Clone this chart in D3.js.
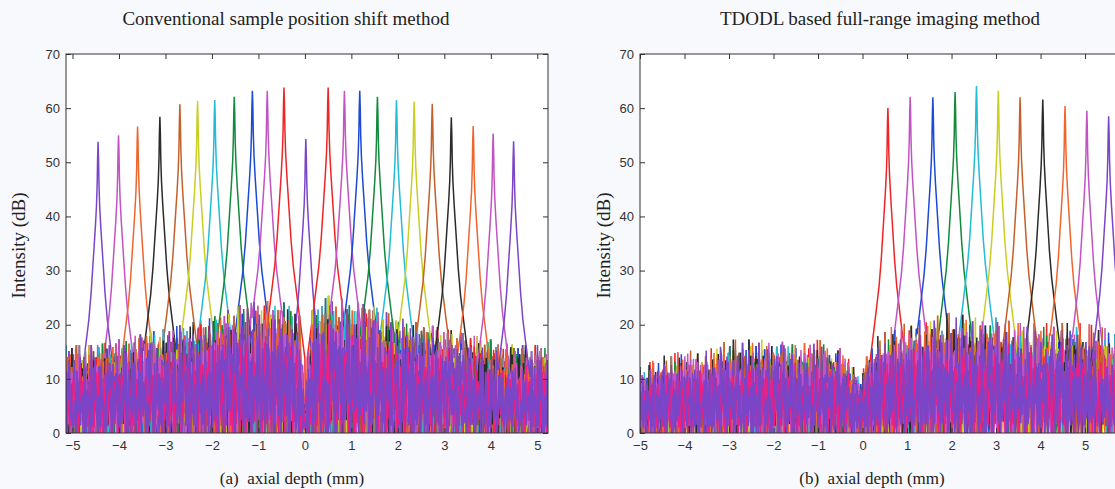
<!doctype html>
<html lang="en">
<head>
<meta charset="UTF-8">
<title>Axial depth intensity profiles</title>
<style>
  body { margin: 0; background: #f8f9fc; }
  svg { display: block; }
  .tick text { font-family: "Liberation Sans", Arial, sans-serif; font-size: 13px; fill: #333; }
  .domain { display: none; }
  .tick line { stroke: #333; }
  .label { font-family: "Liberation Serif", "Times New Roman", serif; font-size: 17px; fill: #222; white-space: pre; }
  .big { font-size: 19px; }
</style>
</head>
<body>
<svg id="chart" width="1115" height="489"></svg>
<script src="https://d3js.org/d3.v7.min.js"></script>
<script>
// ---- data ----
const depthTicks = [-5, -4, -3, -2, -1, 0, 1, 2, 3, 4, 5, 6];
const dbTicks = [0, 10, 20, 30, 40, 50, 60, 70];

// (a) conventional method: peak depth (mm), peak intensity (dB), colour
const peakPosA = [-4.45, -4.01, -3.60, -3.12, -2.69, -2.31, -1.94, -1.52, -1.13, -0.81, -0.45, 0.02,
  0.50, 0.85, 1.18, 1.56, 1.97, 2.35, 2.74, 3.15, 3.62, 4.05, 4.49];
const peakDbA = [53.8, 55.0, 56.6, 58.4, 60.7, 61.3, 61.5, 62.1, 63.2, 63.2, 63.8, 54.3,
  63.8, 63.2, 63.2, 62.1, 61.5, 61.2, 60.8, 58.3, 56.7, 55.3, 53.9];
const colorsA = ['#7b45c8', '#c253c4', '#f0652e', '#2b2b2b', '#c4602c', '#c9cf22', '#22bcd6', '#128a3c',
  '#1c4ad6', '#c253c4', '#f02424', '#7b45c8', '#f02424', '#c253c4', '#1c4ad6', '#128a3c', '#22bcd6',
  '#c9cf22', '#c4602c', '#2b2b2b', '#f0652e', '#c253c4', '#7b45c8'];

// (b) TDODL method
const peakPosB = [0.57, 1.07, 1.58, 2.08, 2.56, 3.05, 3.54, 4.05, 4.55, 5.04, 5.53];
const peakDbB = [60.0, 62.1, 62.0, 63.0, 64.1, 63.2, 62.0, 61.6, 60.4, 59.5, 58.5];
const colorsB = ['#f02424', '#c253c4', '#1c4ad6', '#128a3c', '#22bcd6', '#c9cf22', '#c4602c', '#2b2b2b',
  '#f0652e', '#c253c4', '#7b45c8'];

// noise-only traces drawn over the others
const extraColors = ['#ee1f80', '#7b45c8'];

// upper edge of the noise floor (dB) against depth
const envDepthA = [-5.2, -4.5, -4, -3.5, -3, -2.5, -2, -1.5, -1, -0.5, -0.12, -0.05, 0, 0.05, 0.12, 0.5, 1, 1.5, 2, 2.5, 3, 3.5, 4, 4.5, 5.3];
const envDbA = [16, 16, 17, 18, 19, 20, 21, 23, 24, 24, 22, 12, 3, 12, 22, 25, 24, 23, 21, 20, 19, 18, 17, 16, 16];
const envDepthB = [-5, -4.5, -4, -3.5, -3, -2.5, -2, -1.5, -1, -0.5, -0.2, 0, 0.15, 0.5, 1, 1.5, 2, 2.5, 3, 3.5, 4, 4.5, 5, 5.5, 6];
const envDbB = [12, 14, 15, 15, 17, 17, 17, 16, 17, 16, 12, 11, 16, 19, 20, 21, 22, 21, 21, 20, 20, 20, 20, 19, 18];

// peak flank: distance from peak (mm) -> drop below peak (dB)
const profDist = [0, 0.01, 0.02, 0.035, 0.06, 0.09, 0.12, 0.15, 0.2, 0.3, 0.45];
const profDrop = [0, 3, 8, 12, 16, 20, 24, 28, 33, 40, 50];

// speckle level digits (0-9), typed by hand, read as fraction of the noise edge
const speckle = '5082937146627091835540712968834052179360241886735019426673819052274936018845273691052843719627380514' +
  '1967340825593718206647392851013678492205813946677128503946821375097462381590437716258094317260985432' +
  '0749185263397410568821465930472518836092154470839621583304719862257013964828305716492360817594283015';

const panels = [
  { left: 66, right: 548, top: 54, bottom: 433, domain: [-5.14, 5.23], pos: peakPosA, db: peakDbA,
    colors: colorsA, envX: envDepthA, envY: envDbA,
    title: 'Conventional sample position shift method', xlab: '(a)  axial depth (mm)', titleX: 286, xlabX: 292, ylabX: 18 },
  { left: 640, right: 1122, top: 54, bottom: 433, domain: [-5, 5.83], pos: peakPosB, db: peakDbB,
    colors: colorsB, envX: envDepthB, envY: envDbB,
    title: 'TDODL based full-range imaging method', xlab: '(b)  axial depth (mm)', titleX: 880, xlabX: 872, ylabX: 603 }
];

const svg = d3.select('#chart');
const flank = d3.scaleLinear().domain(profDist).range(profDrop);
const reach = profDist[profDist.length - 1];
const L = speckle.length;

panels.forEach((p, pi) => {
  const x = d3.scaleLinear().domain(p.domain).range([p.left, p.right]);
  const y = d3.scaleLinear().domain([0, 70]).range([p.bottom, p.top]);
  const env = d3.scaleLinear().domain(p.envX).range(p.envY).clamp(true);
  const ticksX = depthTicks.filter(t => x(t) >= p.left - 1 && x(t) <= Math.min(p.right, 1105));

  svg.append('rect')
    .attr('x', p.left).attr('y', p.top)
    .attr('width', p.right - p.left).attr('height', p.bottom - p.top)
    .attr('fill', '#fff');

  svg.append('clipPath').attr('id', 'clip' + pi)
    .append('rect')
    .attr('x', p.left).attr('y', p.top)
    .attr('width', p.right - p.left).attr('height', p.bottom - p.top);

  const g = svg.append('g').attr('clip-path', `url(#clip${pi})`);

  const step = 0.016;
  const n = Math.round((p.domain[1] - p.domain[0]) / step);
  const line = d3.line().x(d => x(d[0])).y(d => y(Math.max(0, d[1])));

  const series = p.pos.map((pos, s) => ({ pos, peak: p.db[s], color: p.colors[s], amp: 1 }))
    .concat(extraColors.map(c => ({ pos: null, peak: 0, color: c, amp: 0.8 })));

  series.forEach((sr, s) => {
    const base = d3.range(n + 1).map(i => [p.domain[0] + i * step, i]);
    if (sr.pos !== null) {
      profDist.forEach(d => {
        const i = Math.round((sr.pos - p.domain[0]) / step);
        base.push([sr.pos - d, i]);
        base.push([sr.pos + d, i]);
      });
      base.sort((a, b) => a[0] - b[0]);
    }
    const pts = base.map(([xv, i], k) => {
      const dig = +speckle[(k + s * 37 + pi * 11) % L];
      const edge = 0.7 + 0.035 * +speckle[(i * 3 + 101) % L];
      let v = env(xv) * edge * sr.amp * dig / 9;
      const dist = Math.abs(xv - sr.pos);
      if (sr.pos !== null && dist <= reach) {
        v = Math.max(v, sr.peak - flank(dist));
      }
      return [xv, v];
    });
    g.append('path')
      .datum(pts)
      .attr('d', line)
      .attr('fill', 'none')
      .attr('stroke', sr.color)
      .attr('stroke-width', 1.5);
  });

  // axes box and inward ticks
  svg.append('rect')
    .attr('x', p.left).attr('y', p.top)
    .attr('width', p.right - p.left).attr('height', p.bottom - p.top)
    .attr('fill', 'none').attr('stroke', '#333').attr('stroke-width', 1);

  svg.append('g').attr('transform', `translate(0,${p.bottom})`)
    .call(d3.axisBottom(x).tickValues(ticksX).tickSize(-5).tickPadding(8).tickFormat(d3.format('d')));
  svg.append('g').attr('transform', `translate(0,${p.top})`)
    .call(d3.axisTop(x).tickValues(ticksX).tickSize(-5).tickFormat(''));
  svg.append('g').attr('transform', `translate(${p.left},0)`)
    .call(d3.axisLeft(y).tickValues(dbTicks).tickSize(-5).tickPadding(6));
  svg.append('g').attr('transform', `translate(${p.right},0)`)
    .call(d3.axisRight(y).tickValues(dbTicks).tickSize(-5).tickFormat(''));

  svg.append('text').attr('class', 'label big')
    .attr('x', p.titleX).attr('y', 25).attr('text-anchor', 'middle')
    .text(p.title);
  svg.append('text').attr('class', 'label')
    .attr('x', p.xlabX).attr('y', 484).attr('text-anchor', 'middle')
    .text(p.xlab);
  svg.append('text').attr('class', 'label big')
    .attr('transform', `translate(${p.ylabX},${(p.top + p.bottom) / 2 + 2}) rotate(-90)`)
    .attr('dy', '0.35em').attr('text-anchor', 'middle')
    .text('Intensity (dB)');
});
</script>
</body>
</html>
